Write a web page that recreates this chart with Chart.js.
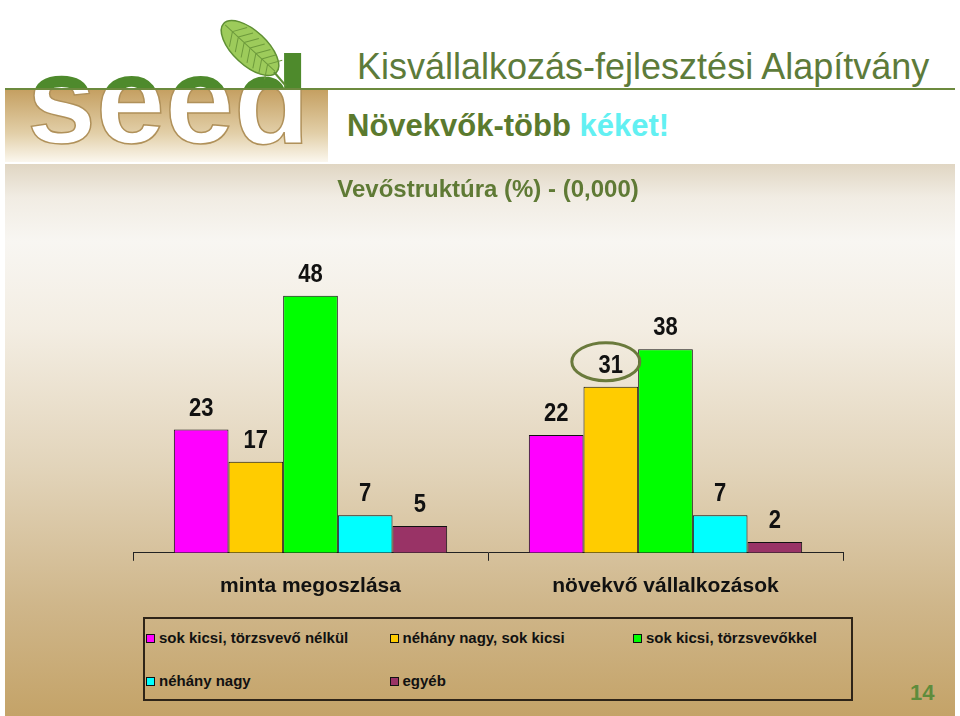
<!DOCTYPE html>
<html lang="hu">
<head>
  <meta charset="UTF-8" />
  <title>Vevőstruktúra</title>
  <script src="https://cdn.jsdelivr.net/npm/chart.js@4.4.1/dist/chart.umd.min.js"></script>
  <style>
    html, body { margin: 0; padding: 0; }
    body { width: 960px; height: 716px; position: relative; overflow: hidden; background: #fff; font-family: "Liberation Sans", Arial, sans-serif; }
    #logo { position: absolute; left: 0; top: 0; }
    .rule { position: absolute; left: 5px; top: 88px; width: 950px; height: 2px; background: #6c8a3e; }
    .org { position: absolute; left: 357px; top: 46px; font-size: 36px; color: #5d7b3a; white-space: nowrap; }
    .sub { position: absolute; left: 347px; top: 108px; font-size: 31px; font-weight: bold; color: #5b7a2e; white-space: nowrap; }
    .sub span { color: #62f0f2; }
    .panel { position: absolute; left: 5px; top: 164px; width: 950px; height: 552px;
      background: linear-gradient(to bottom, #e0d6c3 0%, #f1ece3 6%, #f8f6f2 14%, #f3ede2 30%, #e2d4ba 55%, #cfb68a 80%, #c4a368 100%); }
    .chart-box { position: absolute; left: 0; top: 164px; width: 960px; height: 450px; }
    #legend { position: absolute; left: 143px; top: 617px; width: 706px; height: 80px; border: 2px solid #2e2418; }
    .item { position: absolute; font-size: 15px; font-weight: bold; color: #111; white-space: nowrap; line-height: 18px; }
    .item i { display: inline-block; width: 7px; height: 7px; border: 1px solid #111; margin-right: 4px; vertical-align: 0px; }
    .page { position: absolute; left: 910px; top: 680px; font-size: 22px; font-weight: bold; color: #5e8c3c; }
  </style>
</head>
<body>
  <div class="panel"></div>
  <canvas id="logo" width="330" height="162"></canvas>
  <div class="rule"></div>
  <div class="org">Kisvállalkozás-fejlesztési Alapítvány</div>
  <div class="sub">Növekvők-több <span>kéket!</span></div>

  <div class="chart-box"><canvas id="barChart"></canvas></div>
  <div id="legend"></div>
  <div class="page">14</div>

<script>
  const categories = ['minta megoszlása', 'növekvő vállalkozások'];
  const seriesNames = ['sok kicsi, törzsvevő nélkül', 'néhány nagy, sok kicsi', 'sok kicsi, törzsvevőkkel', 'néhány nagy', 'egyéb'];
  const kicsiNelkul = [23, 22];
  const nagyKicsi = [17, 31];
  const kicsiTorzsvevo = [48, 38];
  const nehanyNagy = [7, 7];
  const egyeb = [5, 2];

  const seriesValues = [kicsiNelkul, nagyKicsi, kicsiTorzsvevo, nehanyNagy, egyeb];
  const seriesColors = ['#ff00ff', '#ffcc00', '#00ff00', '#00ffff', '#993366'];
  // the circled value on the slide
  const highlight = { dataset: 1, index: 1 };
  const fontFamily = '"Liberation Sans", Arial, sans-serif';

  // logo
  function drawLogo() {
    const c = document.getElementById('logo');
    const ctx = c.getContext('2d');
    const g = ctx.createLinearGradient(0, 90, 0, 162);
    g.addColorStop(0, '#c5a062');
    g.addColorStop(0.6, '#e2cfa8');
    g.addColorStop(1, '#fbf7ee');
    ctx.fillStyle = g;
    ctx.fillRect(5, 90, 323, 72);

    ctx.font = 'bold 124px ' + fontFamily;
    ctx.textBaseline = 'alphabetic';
    ctx.save();
    ctx.beginPath(); ctx.rect(0, 0, 330, 89); ctx.clip();
    ctx.fillStyle = '#4e8a2c';
    ctx.fillText('seed', 27, 143);
    ctx.restore();
    ctx.save();
    ctx.beginPath(); ctx.rect(0, 90, 330, 80); ctx.clip();
    ctx.fillStyle = '#ffffff';
    ctx.fillText('seed', 27, 143);
    ctx.lineWidth = 1.5;
    ctx.strokeStyle = '#b0915a';
    ctx.strokeText('seed', 27, 143);
    ctx.restore();

    // leaf
    ctx.save();
    ctx.translate(250, 48);
    ctx.rotate(0.75);
    ctx.beginPath();
    ctx.ellipse(0, 0, 36, 17, 0, 0, Math.PI * 2);
    ctx.fillStyle = '#9dcb5b';
    ctx.fill();
    ctx.strokeStyle = '#5f8f34';
    ctx.lineWidth = 1.5;
    ctx.stroke();
    ctx.beginPath();
    ctx.moveTo(-34, 0); ctx.lineTo(34, 0);
    for (let k = -24; k <= 24; k += 8) {
      ctx.moveTo(k, 0); ctx.lineTo(k + 8, -13);
      ctx.moveTo(k, 0); ctx.lineTo(k + 8, 13);
    }
    ctx.strokeStyle = '#6d9a3c';
    ctx.lineWidth = 1;
    ctx.stroke();
    ctx.restore();
    ctx.beginPath();
    ctx.moveTo(274, 72); ctx.lineTo(286, 86);
    ctx.strokeStyle = '#5f8f34';
    ctx.lineWidth = 2;
    ctx.stroke();
  }
  drawLogo();

  // value labels above bars + the ellipse
  const valueLabels = {
    id: 'valueLabels',
    afterDatasetsDraw(chart) {
      const ctx = chart.ctx;
      ctx.save();
      ctx.fillStyle = '#111';
      ctx.font = 'bold 22px ' + fontFamily;
      ctx.textAlign = 'center';
      ctx.textBaseline = 'middle';
      chart.data.datasets.forEach(function(ds, i) {
        chart.getDatasetMeta(i).data.forEach(function(bar, j) {
          ctx.save();
          ctx.translate(bar.x, bar.y - 21);
          ctx.scale(1, 1.15);
          ctx.fillText(ds.data[j], 0, 0);
          ctx.restore();
          if (i === highlight.dataset && j === highlight.index) {
            ctx.beginPath();
            ctx.ellipse(bar.x - 5, bar.y - 25, 34, 19, 0, 0, Math.PI * 2);
            ctx.strokeStyle = '#6a7a3c';
            ctx.lineWidth = 3;
            ctx.stroke();
          }
        });
      });
      ctx.restore();
    }
  };

  const datasets = seriesNames.map(function(name, i) {
    return {
      label: name,
      data: seriesValues[i],
      backgroundColor: seriesColors[i],
      borderColor: '#111',
      borderWidth: 1,
      categoryPercentage: 0.77,
      barPercentage: 1.0
    };
  });

  new Chart('barChart', {
    type: 'bar',
    data: { labels: categories, datasets: datasets },
    plugins: [valueLabels],
    options: {
      responsive: true,
      maintainAspectRatio: false,
      animation: false,
      layout: { padding: { left: 133, right: 117, top: 0, bottom: 2 } },
      plugins: {
        legend: { display: false },
        tooltip: { enabled: false },
        title: {
          display: true,
          text: 'Vevőstruktúra (%) - (0,000)',
          color: '#5f7a35',
          font: { family: fontFamily, size: 24, weight: 'bold' },
          padding: { top: 12, bottom: 48 }
        }
      },
      scales: {
        x: {
          grid: { display: true, offset: true, drawOnChartArea: false, tickLength: 8, color: '#222', lineWidth: 1 },
          border: { display: true, color: '#222', width: 1 },
          ticks: { color: '#111', font: { family: fontFamily, size: 21, weight: 'bold' }, padding: 13 }
        },
        y: { display: false, min: 0, max: 56 }
      }
    }
  });

  // legend in three columns, like the slide
  const legend = document.getElementById('legend');
  seriesNames.forEach(function(name, i) {
    const el = document.createElement('div');
    el.className = 'item';
    el.style.left = (1 + (i % 3) * 243.5) + 'px';
    el.style.top = (i < 3 ? 10 : 53) + 'px';
    el.innerHTML = '<i style="background:' + seriesColors[i] + '"></i>' + name;
    legend.appendChild(el);
  });
</script>
</body>
</html>
